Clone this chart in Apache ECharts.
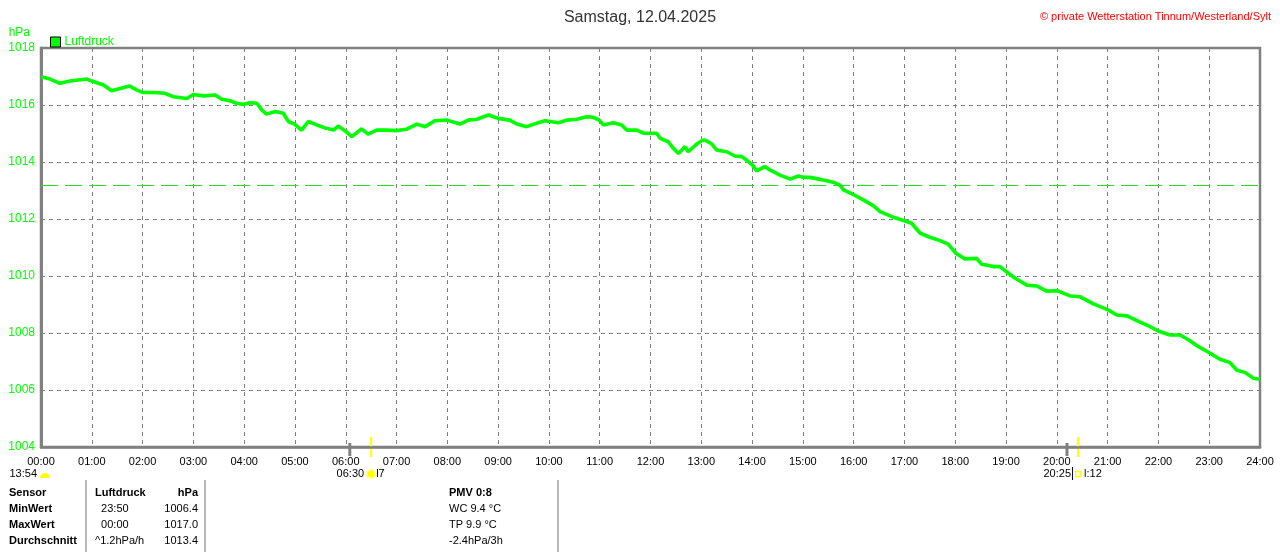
<!DOCTYPE html>
<html><head><meta charset="utf-8">
<script src="https://cdn.jsdelivr.net/npm/echarts@6/dist/echarts.min.js"></script>
<style>html,body{margin:0;padding:0;background:#fff}#c{width:1280px;height:552px}</style>
</head><body><div id="c"></div>
<script>
const titleText = 'Samstag, 12.04.2025';
const copyrightText = '\u00A9 private Wetterstation Tinnum/Westerland/Sylt';
const seriesName = 'Luftdruck';
const unitName = 'hPa';
const times = [0.00,0.18,0.37,0.57,0.90,1.00,1.23,1.39,1.56,1.74,1.88,2.00,2.24,2.44,2.61,2.87,3.00,3.20,3.43,3.56,3.72,3.85,3.98,4.11,4.25,4.35,4.44,4.61,4.77,4.87,4.99,5.13,5.26,5.43,5.62,5.76,5.85,5.99,6.12,6.31,6.44,6.61,6.81,6.99,7.20,7.40,7.56,7.76,7.99,8.25,8.41,8.58,8.81,9.00,9.23,9.37,9.56,9.76,9.92,10.19,10.35,10.55,10.74,10.87,10.99,11.07,11.27,11.43,11.53,11.73,11.86,12.12,12.19,12.35,12.45,12.55,12.68,12.74,12.91,13.01,13.07,13.21,13.30,13.50,13.66,13.80,13.89,14.01,14.09,14.25,14.35,14.55,14.75,14.91,15.01,15.14,15.34,15.47,15.63,15.73,15.80,15.99,16.19,16.39,16.52,16.75,17.00,17.14,17.31,17.50,17.70,17.86,18.01,18.19,18.42,18.52,18.75,18.88,19.01,19.18,19.41,19.60,19.80,20.02,20.26,20.46,20.72,21.01,21.18,21.38,21.64,21.84,22.02,22.23,22.43,22.62,22.79,23.02,23.21,23.41,23.54,23.71,23.87,24.00];
const pressure = [1016.99,1016.91,1016.76,1016.84,1016.91,1016.84,1016.70,1016.50,1016.58,1016.67,1016.53,1016.44,1016.44,1016.41,1016.29,1016.23,1016.37,1016.32,1016.35,1016.20,1016.15,1016.06,1016.02,1016.08,1016.06,1015.82,1015.68,1015.77,1015.71,1015.42,1015.33,1015.12,1015.42,1015.30,1015.18,1015.12,1015.26,1015.09,1014.89,1015.16,1014.98,1015.12,1015.12,1015.10,1015.15,1015.33,1015.24,1015.45,1015.47,1015.33,1015.47,1015.50,1015.65,1015.53,1015.47,1015.33,1015.24,1015.36,1015.45,1015.38,1015.47,1015.50,1015.59,1015.57,1015.47,1015.30,1015.38,1015.30,1015.12,1015.12,1015.01,1015.01,1014.83,1014.71,1014.48,1014.30,1014.54,1014.36,1014.63,1014.75,1014.77,1014.63,1014.42,1014.36,1014.21,1014.19,1014.07,1013.89,1013.69,1013.84,1013.72,1013.54,1013.40,1013.51,1013.46,1013.46,1013.39,1013.34,1013.27,1013.19,1013.02,1012.86,1012.67,1012.46,1012.26,1012.08,1011.94,1011.85,1011.50,1011.36,1011.24,1011.12,1010.80,1010.60,1010.62,1010.41,1010.33,1010.33,1010.15,1009.92,1009.68,1009.65,1009.47,1009.48,1009.30,1009.27,1009.02,1008.81,1008.63,1008.60,1008.38,1008.22,1008.05,1007.93,1007.93,1007.73,1007.52,1007.29,1007.08,1006.96,1006.70,1006.61,1006.41,1006.38];
const averageLine = 1013.2;
const yMin = 1004, yMax = 1018, yStep = 2;
const xMin = 0, xMax = 24, xStep = 1;
const twilightTimes = [6.08, 20.2];
const sunTimes = [6.5, 20.417];
const dayLengthLabel = '13:54';
const sunriseLabel = '06:30';
const sunriseSuffix = 'l7';
const sunsetLabel = '20:25';
const sunsetSuffix = 'l:12';
const tableHeader = ['Sensor', 'Luftdruck', 'hPa'];
const tableRowNames = ['MinWert', 'MaxWert', 'Durchschnitt'];
const tableTimes = ['  23:50', '  00:00', '^1.2hPa/h'];
const tableValues = ['1006.4', '1017.0', '1013.4'];
const extraHeader = 'PMV 0:8';
const extraLines = ['WC 9.4 \u00B0C', 'TP 9.9 \u00B0C', '-2.4hPa/3h'];

const green = '#00ff00';
const FONT = 'Liberation Sans';
const chart = echarts.init(document.getElementById('c'));
const data = times.map((t, i) => [t, pressure[i]]);

chart.setOption({
  animation: false,
  backgroundColor: '#fff',
  title: [
    { text: titleText, left: 'center', top: 5, textStyle: { fontFamily: FONT, fontSize: 16, fontWeight: 'normal', color: '#333' } },
    { text: copyrightText, right: 4, top: 6, textStyle: { fontFamily: FONT, fontSize: 11, fontWeight: 'normal', color: '#ff0000' } }
  ],
  legend: {
    left: 45, top: 31, itemWidth: 10, itemHeight: 10, itemGap: 5,
    data: [{ name: seriesName, icon: 'rect', itemStyle: { color: green, borderColor: '#000', borderWidth: 1 } }],
    textStyle: { fontFamily: FONT, fontSize: 12, color: green, padding: [0,0,0,-1] }
  },
  grid: { left: 41, right: 20, top: 48, bottom: 105, show: true, borderColor: '#808080', borderWidth: 2.5, backgroundColor: 'transparent' },
  xAxis: {
    type: 'value', min: xMin, max: xMax, interval: xStep,
    axisLine: { show: true, lineStyle: { color: '#808080', width: 2.5 } },
    axisTick: { show: false },
    axisLabel: { fontFamily: FONT, fontSize: 11, color: '#000', margin: 9, formatter: v => String(v).padStart(2, '0') + ':00' },
    splitLine: { show: true, lineStyle: { color: '#808080', type: [4, 4], width: 1 } }
  },
  yAxis: {
    type: 'value', min: yMin, max: yMax, interval: yStep,
    axisLine: { show: true, lineStyle: { color: '#808080', width: 3 } },
    axisTick: { show: false },
    axisLabel: { fontFamily: FONT, fontSize: 12, color: green, margin: 6, formatter: v => String(v) },
    splitLine: { show: true, lineStyle: { color: '#808080', type: [4, 4], width: 1 } }
  },
  series: [{
    name: seriesName, type: 'line', data: data, showSymbol: false, symbol: 'none',
    lineStyle: { color: green, width: 3.6 }, itemStyle: { color: green },
    markLine: {
      silent: true, symbol: 'none', label: { show: false },
      lineStyle: { color: '#22e022', type: [17, 7], width: 1, opacity: 1 },
      emphasis: { disabled: true },
      data: [{ yAxis: averageLine }]
    }
  }]
});

function px(t) { return chart.convertToPixel({ xAxisIndex: 0 }, t); }
const g = [];
const txt = (x, y, s, opt) => g.push({ type: 'text', x: x, y: y, silent: true,
  style: Object.assign({ text: s, fontFamily: FONT, fontSize: 11, fill: '#000', textAlign: 'left', textVerticalAlign: 'middle' }, opt || {}) });

g.push({ type: 'text', x: 30, y: 33, style: { text: unitName, fontFamily: FONT, fontSize: 12, fill: green, textAlign: 'right', textVerticalAlign: 'middle' } });

twilightTimes.forEach(t => g.push({ type: 'line', shape: { x1: px(t), y1: 443, x2: px(t), y2: 456 }, style: { stroke: '#808080', lineWidth: 3 } }));
sunTimes.forEach(t => g.push({ type: 'line', shape: { x1: px(t), y1: 437, x2: px(t), y2: 457 }, style: { stroke: '#ffff00', lineWidth: 2 } }));

const x0 = px(0);
txt(x0 - 4, 474, dayLengthLabel, { textAlign: 'right' });
g.push({ type: 'sector', shape: { cx: x0 + 4, cy: 478, r: 5, startAngle: Math.PI, endAngle: 2 * Math.PI }, style: { fill: '#ffff00' } });

const xr = px(sunTimes[0]);
txt(xr - 7, 474, sunriseLabel, { textAlign: 'right' });
g.push({ type: 'circle', shape: { cx: xr, cy: 474, r: 5.5 }, style: { fill: '#ffffaa' } });
g.push({ type: 'circle', shape: { cx: xr, cy: 474, r: 3.5 }, style: { fill: '#ffff00' } });
txt(xr + 5, 474, sunriseSuffix);

const xs = px(sunTimes[1]);
txt(xs - 7, 474, sunsetLabel, { textAlign: 'right' });
g.push({ type: 'line', shape: { x1: xs - 5.5, y1: 467, x2: xs - 5.5, y2: 480 }, style: { stroke: '#000080', lineWidth: 1 } });
g.push({ type: 'rect', shape: { x: xs - 2.5, y: 471.5, width: 5, height: 5 }, style: { fill: 'none', stroke: '#ffff00', lineWidth: 1.5 } });
txt(xs + 6, 474, sunsetSuffix);

const rowsY = [493, 509, 525, 541];
[86, 205, 558].forEach(x => g.push({ type: 'line', shape: { x1: x, y1: 480, x2: x, y2: 552 }, style: { stroke: '#a0a0a0', lineWidth: 1.5 } }));
txt(9, rowsY[0], tableHeader[0], { fontWeight: 'bold' });
txt(95, rowsY[0], tableHeader[1], { fontWeight: 'bold' });
txt(198, rowsY[0], tableHeader[2], { fontWeight: 'bold', textAlign: 'right' });
tableRowNames.forEach((n, i) => {
  txt(9, rowsY[i + 1], n, { fontWeight: 'bold' });
  txt(95, rowsY[i + 1], tableTimes[i]);
  txt(198, rowsY[i + 1], tableValues[i], { textAlign: 'right' });
});
txt(449, rowsY[0], extraHeader, { fontWeight: 'bold' });
extraLines.forEach((s, i) => txt(449, rowsY[i + 1], s));

chart.setOption({ graphic: g });
</script>
</body></html>
